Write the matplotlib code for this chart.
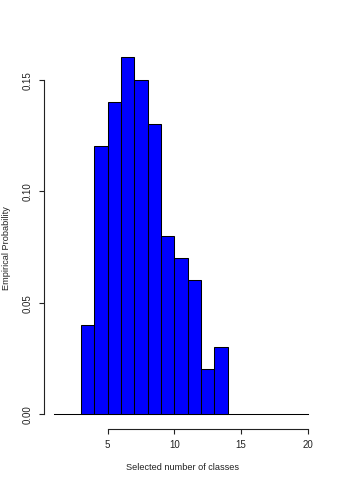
import matplotlib
matplotlib.use("Agg")
import matplotlib.pyplot as plt

plt.rcParams['font.family'] = ['Liberation Sans', 'DejaVu Sans']

classes = [3, 4, 5, 6, 7, 8, 9, 10, 11, 12, 13]
probs = [0.04, 0.12, 0.14, 0.16, 0.15, 0.13, 0.08, 0.07, 0.06, 0.02, 0.03]
x_ticks = [5, 10, 15, 20]
y_ticks = [0.00, 0.05, 0.10, 0.15]
y_tick_labels = ["0.00", "0.05", "0.10", "0.15"]
baseline_range = [1, 20]

W, H = 341, 485
fig = plt.figure(figsize=(W / 100, H / 100), dpi=100)
ax = fig.add_axes([43.5 / W, (H - 430) / H, 274.5 / W, (430 - 44) / H])

ax.bar(classes, probs, width=1.0, align='edge', color='#0000FF',
       edgecolor='black', linewidth=0.75, zorder=3)
ax.plot(baseline_range, [0, 0], color='black', linewidth=0.75, zorder=2)

ax.set_xlim(0.19, 20.77)
ax.set_ylim(-0.0067, 0.1664)

for s in ['top', 'right']:
    ax.spines[s].set_visible(False)
ax.spines['left'].set_bounds(0, 0.15)
ax.spines['bottom'].set_bounds(5, 20)
for s in ['left', 'bottom']:
    ax.spines[s].set_linewidth(0.8)
    ax.spines[s].set_color('#222222')

ax.set_xticks(x_ticks)
ax.set_xticklabels([str(v) for v in x_ticks])
ax.set_yticks(y_ticks)
ax.set_yticklabels(y_tick_labels, rotation=90, va='center')
ax.tick_params(axis='both', length=3.6, width=0.8, color='#222222',
               labelsize=7, labelcolor='#222222')
ax.tick_params(axis='x', pad=3.6)
ax.tick_params(axis='y', pad=4.2)

fig.text(182 / W, 1 - 468 / H, "Selected number of classes", ha='center',
         va='center', fontsize=6.6, color='#222222')
fig.text(6.5 / W, 1 - 248 / H, "Empirical Probability", ha='center',
         va='center', rotation=90, fontsize=6.6, color='#222222')

fig.savefig("out.png", dpi=100)
